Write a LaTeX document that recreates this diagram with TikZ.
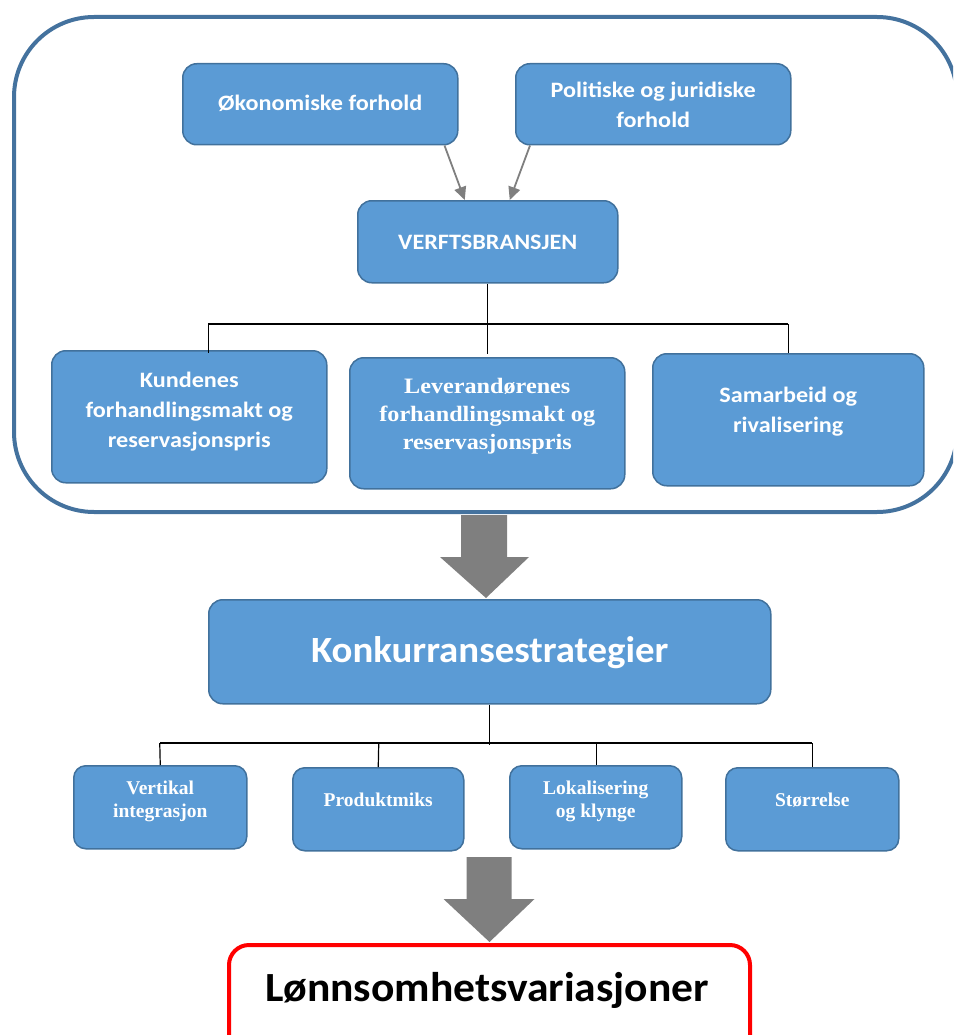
\documentclass[tikz,border=0pt]{standalone}
\usepackage{fontspec}
\setmainfont{Carlito}
\newfontfamily\calw{Carlito}[FakeStretch=1.1]
\newfontfamily\calv{Carlito}[FakeStretch=1.05]
\newfontfamily\tms{Liberation Serif}
\newfontfamily\tmsw{Liberation Serif}[FakeStretch=1.1]
\usetikzlibrary{arrows.meta,calc}
\definecolor{boxfill}{RGB}{91,155,213}
\definecolor{boxline}{RGB}{65,113,156}
\definecolor{outerline}{RGB}{68,114,158}
\definecolor{arrowgray}{RGB}{127,127,127}
\begin{document}
\begin{tikzpicture}[x=1pt,y=-1pt,
  bluebox/.style={draw=boxline, line width=1.5pt, fill=boxfill, rounded corners=14pt, inner sep=0pt, anchor=north west},
  wtext/.style={text=white, align=center, inner sep=0pt},
  cal/.style={font=\calw\bfseries\fontsize{22}{30}\selectfont},
  tim/.style={font=\tmsw\bfseries\fontsize{22}{28}\selectfont},
  timsmall/.style={font=\tms\bfseries\fontsize{19.5}{23}\selectfont},
  thinarrow/.style={draw=arrowgray, line width=1.8pt, -{Triangle[length=13pt,width=12pt]}},
  treeline/.style={draw=black, line width=1.2pt},
  treebar/.style={draw=black, line width=2.2pt},
  blockarrow/.style={fill=arrowgray, draw=none}
]
\useasboundingbox (0,0) rectangle (953,1035);
\clip (0,0) rectangle (953,1035);

% outer container
\node[draw=outerline, line width=4pt, rounded corners=80pt, minimum width=943pt, minimum height=495pt, inner sep=0pt, anchor=north west] (outer) at (12,15) {};

% top boxes
\node[bluebox, minimum width=275pt, minimum height=81pt] (oko) at (182,63) {};
\node[wtext, cal] (okot) at ($(oko.center)+(0,-1)$) {Økonomiske forhold};
\node[bluebox, minimum width=275pt, minimum height=81pt] (pol) at (515,63) {};
\node[wtext, cal] (polt) at ($(pol.center)+(0,1)$) {Politiske og juridiske\\forhold};

\node[bluebox, minimum width=260pt, minimum height=82pt] (verft) at (357,200) {};
\node[wtext, font=\calw\bfseries\fontsize{22}{26}\selectfont] (verftt) at ($(verft.center)+(0,1)$) {VERFTSBRANSJEN};

\draw[thinarrow] ($(oko.south east)+(-14,0)$) -- ($(verft.north)+(-23,0)$);
\draw[thinarrow] ($(pol.south west)+(15,0)$) -- ($(verft.north)+(22,0)$);

\node[bluebox, minimum width=275pt, minimum height=132pt] (kund) at (51,350) {};
\node[wtext, cal] (kundt) at ($(kund.center)+(0,-5)$) {Kundenes\\forhandlingsmakt og\\reservasjonspris};
\node[bluebox, minimum width=275pt, minimum height=131pt] (lev) at (349,357) {};
\node[wtext, tim] (levt) at ($(lev.center)+(0,-7)$) {Leverandørenes\\forhandlingsmakt og\\reservasjonspris};
\node[bluebox, minimum width=271pt, minimum height=132pt] (sam) at (652,353) {};
\node[wtext, cal] (samt) at ($(sam.center)+(0,-8)$) {Samarbeid og\\rivalisering};

% tree 1
\draw[treeline] (verft.south) -- ($(verft.south)+(0,70)$);
\draw[treebar] ($(kund.north)+(19,-26)$) -- ($(sam.north)+(0,-29)$);
\draw[treeline] ($(kund.north)+(19,-26)$) -- ($(kund.north)+(19,3)$);
\draw[treeline] ($(sam.north)+(0,-29)$) -- ($(sam.north)+(0,0)$);

% block arrow 1
\fill[blockarrow] (461,515) -- ++(46,0) -- ++(0,42) -- ++(22,0) -- (486,598) -- ++(-46,-41) -- ++(21,0) -- cycle;

% Konkurransestrategier
\node[bluebox, minimum width=562pt, minimum height=104pt] (konk) at (208,599) {};
\node[wtext, font=\calv\bfseries\fontsize{37}{42}\selectfont] (konkt) at ($(konk.center)+(0,1)$) {Konkurransestrategier};

% bottom boxes
\node[bluebox, rounded corners=12pt, minimum width=173pt, minimum height=83pt] (vert) at (73,765) {};
\node[wtext, timsmall] (vertt) at ($(vert.north)+(0,36)$) {Vertikal\\integrasjon};
\node[bluebox, rounded corners=12pt, minimum width=171pt, minimum height=83pt] (prod) at (292,767) {};
\node[wtext, timsmall] (prodt) at ($(prod.north)+(0,33)$) {Produktmiks};
\node[bluebox, rounded corners=12pt, minimum width=172pt, minimum height=83pt] (lok) at (509,765) {};
\node[wtext, timsmall] (lokt) at ($(lok.north)+(0,36)$) {Lokalisering\\og klynge};
\node[bluebox, rounded corners=12pt, minimum width=173pt, minimum height=83pt] (stor) at (725,767) {};
\node[wtext, timsmall] (stort) at ($(stor.north)+(0,33)$) {Størrelse};

% tree 2
\draw[treeline] (konk.south) -- ($(konk.south)+(0,40)$);
\draw[treebar] ($(vert.north)+(-0.5,-22)$) -- ($(stor.north)+(0,-24)$);
\draw[treeline] ($(vert.north)+(-0.5,-22)$) -- (vert.north);
\draw[treeline] ($(prod.north)+(0.5,-24)$) -- (prod.north);
\draw[treeline] ($(lok.north)+(1,-22)$) -- ($(lok.north)+(1,0)$);
\draw[treeline] ($(stor.north)+(0,-24)$) -- (stor.north);

% final box
\node[draw=red, line width=4pt, fill=white, rounded corners=20pt, minimum width=521pt, minimum height=130pt, inner sep=0pt, anchor=north west] (lonn) at (227,943) {};
\node[font=\calv\bfseries\fontsize{41.5}{46}\selectfont, inner sep=0pt] (lonnt) at (487,990) {Lønnsomhetsvariasjoner};

% block arrow 2
\fill[blockarrow] ($(lonn.north)+(-23,-86)$) -- ++(45,0) -- ++(0,42) -- ++(23,0) -- ($(lonn.north)+(0,-1)$) -- ++(-46,-43) -- ++(23,0) -- cycle;
\end{tikzpicture}
\end{document}
